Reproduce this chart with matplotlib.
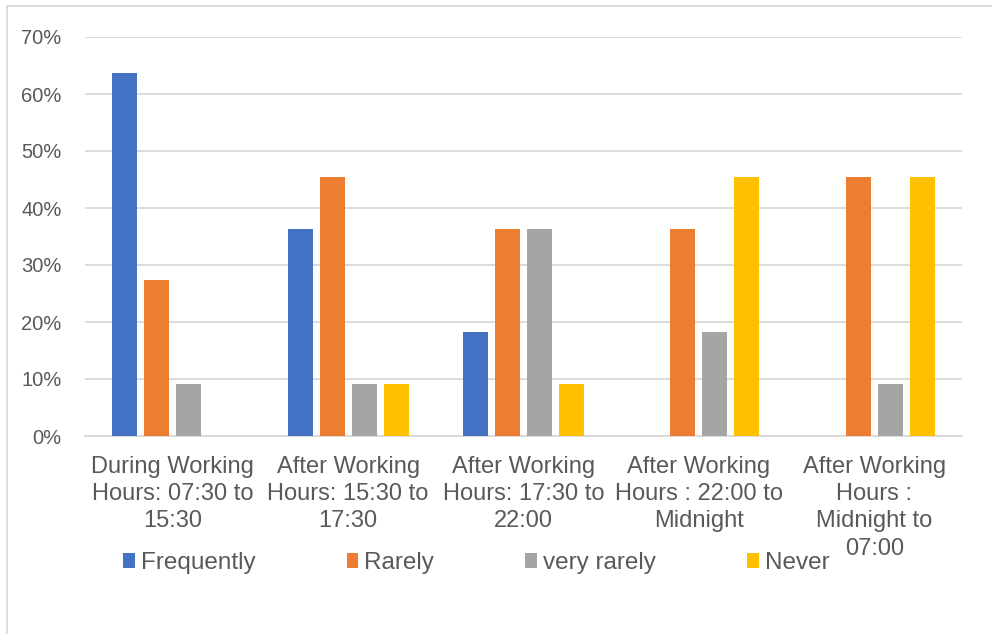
import matplotlib
matplotlib.use("Agg")
import matplotlib.pyplot as plt
import numpy as np
from matplotlib.patches import Rectangle

categories = [
    "During Working\nHours: 07:30 to\n15:30",
    "After Working\nHours: 15:30 to\n17:30",
    "After Working\nHours: 17:30 to\n22:00",
    "After Working\nHours : 22:00 to\nMidnight",
    "After Working\nHours :\nMidnight to\n07:00",
]
series_names = ["Frequently", "Rarely", "very rarely", "Never"]
frequently = [0.636, 0.364, 0.182, 0.0, 0.0]
rarely = [0.273, 0.455, 0.364, 0.364, 0.455]
very_rarely = [0.091, 0.091, 0.364, 0.182, 0.091]
never = [0.0, 0.091, 0.091, 0.455, 0.455]
y_ticks = [0.0, 0.1, 0.2, 0.3, 0.4, 0.5, 0.6, 0.7]

colors = ["#4472C4", "#ED7D31", "#A5A5A5", "#FFC000"]
text_color = "#595959"
grid_color = "#D9D9D9"
font = ["Liberation Sans", "DejaVu Sans"]

W, H = 992, 634
fig = plt.figure(figsize=(W / 100, H / 100), dpi=100)
fig.patch.set_facecolor("white")

# chart-area border (only top and left edges fall inside the canvas)
fig.patches.append(Rectangle((6.5 / W, -0.05), 1.2, 1 - 5.5 / H + 0.05,
                             transform=fig.transFigure, fill=False,
                             edgecolor=grid_color, linewidth=1.3))

ax = fig.add_axes([85 / W, 198 / H, 877 / W, 399 / H])
x = np.arange(len(categories))
spacing = 0.1824
width = 0.1425
all_series = [frequently, rarely, very_rarely, never]
for i, (vals, name, col) in enumerate(zip(all_series, series_names, colors)):
    ax.bar(x + (i - 1.5) * spacing, vals, width, color=col, label=name, zorder=3)

ax.set_xlim(-0.5, len(categories) - 0.5)
ax.set_ylim(0, 0.7)
ax.set_yticks(y_ticks)
ax.set_yticklabels([f"{int(round(v * 100))}%" for v in y_ticks],
                   family=font, fontsize=14.5, color=text_color)
ax.set_xticks(x)
ax.set_xticklabels(categories, family=font, fontsize=17, color=text_color,
                   linespacing=1.31, va="top")
ax.tick_params(axis="both", length=0)
ax.tick_params(axis="y", pad=17)
ax.tick_params(axis="x", pad=14.3)
ax.grid(axis="y", color=grid_color, linewidth=1.3, zorder=0)
for s in ["top", "right", "left"]:
    ax.spines[s].set_visible(False)
ax.spines["bottom"].set_color(grid_color)
ax.spines["bottom"].set_linewidth(1.3)

fig.legend(loc="center left", bbox_to_anchor=(123 / W, 1 - 563 / H), ncol=4,
           frameon=False, prop={"family": font, "size": 17.5},
           labelcolor=text_color, handlelength=0.49, handleheight=0.53,
           handletextpad=0.25, columnspacing=3.74, borderaxespad=0,
           borderpad=0)

fig.savefig("out.png", dpi=100)
